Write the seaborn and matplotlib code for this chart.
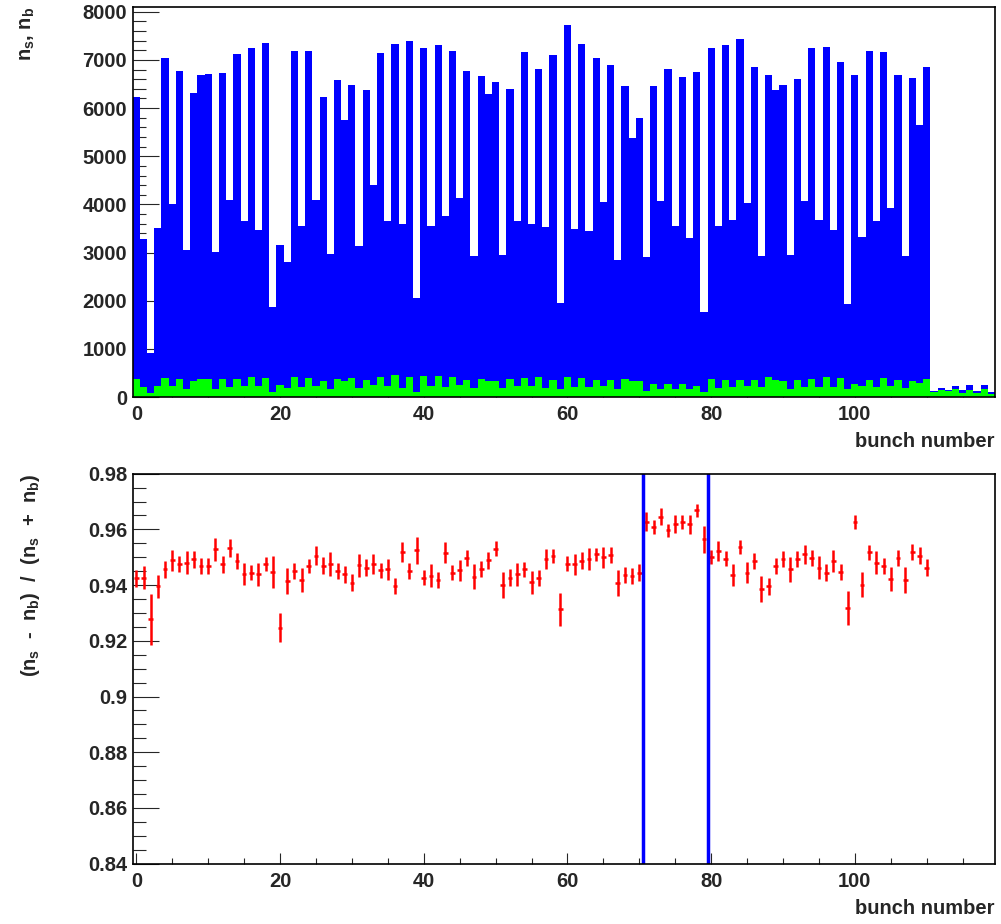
import numpy as np
import pandas as pd
import matplotlib
matplotlib.use('Agg')
import matplotlib.pyplot as plt
import seaborn as sns

# số bunch (bin) 0..119
bunch = np.arange(120)

# n_s : số sự kiện tín hiệu theo bunch
ns = [6220, 3280, 910, 3520, 7030, 4000, 6770, 3050, 6320, 6680,
      6710, 3020, 6720, 4100, 7130, 3660, 7240, 3460, 7360, 1870,
      3160, 2800, 7190, 3560, 7190, 4090, 6240, 2960, 6580, 5750,
      6480, 3140, 6370, 4410, 7140, 3650, 7330, 3590, 7400, 2060,
      7240, 3550, 7320, 3760, 7190, 4140, 6770, 2920, 6660, 6300,
      6540, 2940, 6390, 3660, 7170, 3590, 6810, 3530, 7110, 1960,
      7720, 3480, 7340, 3440, 7040, 4060, 6890, 2850, 6450, 5370,
      5800, 2910, 6450, 4080, 6820, 3550, 6640, 3310, 6750, 1770,
      7250, 3550, 7320, 3680, 7430, 4030, 6860, 2920, 6680, 6370,
      6470, 2940, 6610, 4070, 7240, 3680, 7260, 3460, 6960, 1940,
      6680, 3320, 7190, 3660, 7170, 3920, 6680, 2920, 6630, 5640,
      6860, 130, 190, 150, 220, 150, 260, 120, 240, 100]

# n_b : nền (background)
nb = [374, 200, 90, 229, 395, 236, 367, 173, 340, 367,
      367, 159, 367, 215, 374, 222, 416, 222, 402, 111,
      249, 187, 409, 215, 395, 222, 340, 173, 367, 340,
      395, 187, 360, 256, 409, 222, 457, 194, 416, 111,
      430, 229, 443, 200, 409, 256, 353, 187, 374, 340,
      326, 194, 374, 222, 402, 222, 409, 194, 353, 159,
      409, 208, 388, 200, 347, 222, 347, 173, 367, 340,
      326, 125, 263, 173, 277, 159, 263, 166, 236, 104,
      367, 187, 360, 201, 353, 229, 360, 201, 409, 360,
      340, 173, 347, 215, 374, 208, 409, 201, 395, 159,
      270, 236, 347, 208, 395, 222, 353, 187, 326, 298,
      367, 104, 146, 118, 159, 83, 152, 90, 166, 69]

# (n_s - n_b) / (n_s + n_b) cho bunch 0..110
ratio = [0.9424, 0.9426, 0.9277, 0.9396, 0.9456, 0.9489, 0.9477, 0.9481, 0.9492, 0.9468,
         0.9468, 0.9528, 0.9474, 0.9533, 0.9487, 0.9439, 0.9445, 0.9438, 0.9476, 0.9447,
         0.9247, 0.9414, 0.9450, 0.9418, 0.9469, 0.9506, 0.9469, 0.9476, 0.9452, 0.9438,
         0.9409, 0.9471, 0.9462, 0.9474, 0.9453, 0.9456, 0.9396, 0.9518, 0.9450, 0.9525,
         0.9427, 0.9434, 0.9418, 0.9516, 0.9445, 0.9453, 0.9498, 0.9430, 0.9458, 0.9489,
         0.9531, 0.9400, 0.9427, 0.9438, 0.9456, 0.9410, 0.9426, 0.9494, 0.9505, 0.9313,
         0.9477, 0.9475, 0.9488, 0.9493, 0.9510, 0.9499, 0.9509, 0.9408, 0.9437, 0.9433,
         0.9445, 0.9627, 0.9609, 0.9645, 0.9597, 0.9619, 0.9626, 0.9619, 0.9669, 0.9564,
         0.9501, 0.9523, 0.9495, 0.9436, 0.9537, 0.9445, 0.9487, 0.9385, 0.9396, 0.9469,
         0.9495, 0.9456, 0.9495, 0.9510, 0.9498, 0.9463, 0.9445, 0.9487, 0.9447, 0.9318,
         0.9625, 0.9402, 0.9517, 0.9481, 0.9469, 0.9422, 0.9498, 0.9418, 0.9518, 0.9506,
         0.9463]

ratio_err = [0.0030, 0.0041, 0.0091, 0.0041, 0.0030, 0.0037, 0.0029, 0.0042, 0.0029, 0.0029,
             0.0029, 0.0040, 0.0029, 0.0032, 0.0028, 0.0040, 0.0028, 0.0041, 0.0024, 0.0056,
             0.0052, 0.0047, 0.0028, 0.0042, 0.0026, 0.0034, 0.0030, 0.0042, 0.0029, 0.0030,
             0.0031, 0.0042, 0.0030, 0.0036, 0.0028, 0.0037, 0.0029, 0.0036, 0.0028, 0.0049,
             0.0028, 0.0040, 0.0028, 0.0037, 0.0028, 0.0037, 0.0028, 0.0044, 0.0029, 0.0030,
             0.0028, 0.0046, 0.0030, 0.0041, 0.0028, 0.0042, 0.0029, 0.0037, 0.0026, 0.0060,
             0.0028, 0.0038, 0.0029, 0.0040, 0.0024, 0.0036, 0.0028, 0.0046, 0.0029, 0.0029,
             0.0031, 0.0034, 0.0025, 0.0030, 0.0024, 0.0032, 0.0024, 0.0034, 0.0023, 0.0049,
             0.0026, 0.0036, 0.0026, 0.0041, 0.0024, 0.0038, 0.0028, 0.0047, 0.0031, 0.0029,
             0.0029, 0.0044, 0.0029, 0.0035, 0.0028, 0.0040, 0.0029, 0.0040, 0.0029, 0.0062,
             0.0025, 0.0044, 0.0026, 0.0040, 0.0028, 0.0042, 0.0029, 0.0047, 0.0028, 0.0032,
             0.0029]

# vạch đánh dấu vùng bunch đặc biệt
cut_lines = [70.5, 79.5]

df = pd.DataFrame({'bunch': bunch, 'ns': ns, 'nb': nb})
df_r = pd.DataFrame({'bunch': bunch[:len(ratio)], 'ratio': ratio, 'err': ratio_err})

sns.set_style('ticks')
plt.rcParams['font.family'] = ['Liberation Sans', 'DejaVu Sans']
plt.rcParams['font.weight'] = 'bold'
plt.rcParams['axes.labelweight'] = 'bold'
plt.rcParams['mathtext.fontset'] = 'custom'
plt.rcParams['mathtext.rm'] = 'Liberation Sans:bold'
plt.rcParams['mathtext.it'] = 'Liberation Sans:bold'
plt.rcParams['mathtext.bf'] = 'Liberation Sans:bold'

fs = 14.5
fig = plt.figure(figsize=(10.01, 9.24), dpi=100)
ax1 = fig.add_axes([0.1326, 0.5703, 0.8614, 0.4224])
ax2 = fig.add_axes([0.1326, 0.0653, 0.8614, 0.4221])

# Biểu đồ trên: n_s (xanh dương) và n_b (xanh lá)
sns.histplot(data=df, x='bunch', weights='ns', bins=120, binrange=(-0.5, 119.5),
             element='step', fill=True, color='#0000ff', alpha=1, linewidth=0, ax=ax1)
sns.histplot(data=df, x='bunch', weights='nb', bins=120, binrange=(-0.5, 119.5),
             element='step', fill=True, color='#00ff00', alpha=1, linewidth=0, ax=ax1)
ax1.set_xlim(-0.5, 119.5)
ax1.set_ylim(0, 8104)
ax1.set_yticks(np.arange(0, 8001, 1000))
ax1.set_yticks(np.arange(0, 8001, 200), minor=True)
ax1.set_ylabel('$n_{s}$, $n_{b}$', fontsize=fs, loc='top')
ax1.yaxis.set_label_coords(-0.111, 1.0)

# Biểu đồ dưới: tỉ số
ax2.errorbar(df_r['bunch'], df_r['ratio'], yerr=df_r['err'], xerr=0.33, fmt='none',
             ecolor='#ff0000', elinewidth=1.8, capsize=0)
for xc in cut_lines:
    ax2.axvline(xc, color='#0000ff', lw=2.5)
ax2.set_xlim(-0.5, 119.5)
ax2.set_ylim(0.84, 0.98)
ax2.set_yticks(np.arange(0.84, 0.981, 0.02))
ax2.set_yticks(np.arange(0.84, 0.981, 0.005), minor=True)
ax2.set_yticklabels(['0.84', '0.86', '0.88', '0.9', '0.92', '0.94', '0.96', '0.98'])
ax2.set_ylabel('($n_{s}$  -  $n_{b}$)  /  ($n_{s}$  +  $n_{b}$)', fontsize=fs, loc='top')
ax2.yaxis.set_label_coords(-0.105, 1.0)

for ax in (ax1, ax2):
    ax.set_xticks(np.arange(0, 101, 20))
    ax.set_xticks(np.arange(0, 120, 5), minor=True)
    ax.tick_params(axis='x', which='major', direction='in', length=8, width=0.8,
                   labelsize=fs, pad=6)
    ax.tick_params(axis='x', which='minor', direction='in', length=4, width=0.8)
    ax.tick_params(axis='y', which='major', direction='in', length=18.5, width=0.8,
                   labelsize=fs, pad=4)
    ax.tick_params(axis='y', which='minor', direction='in', length=9.5, width=0.8)
    for sp in ax.spines.values():
        sp.set_visible(True)
        sp.set_linewidth(1.2)
        sp.set_color('black')
    ax.set_xlabel('bunch number', fontsize=fs, loc='right', fontweight='bold')
    ax.xaxis.set_label_coords(1.0, -0.09)

fig.savefig('out.png', dpi=100)
